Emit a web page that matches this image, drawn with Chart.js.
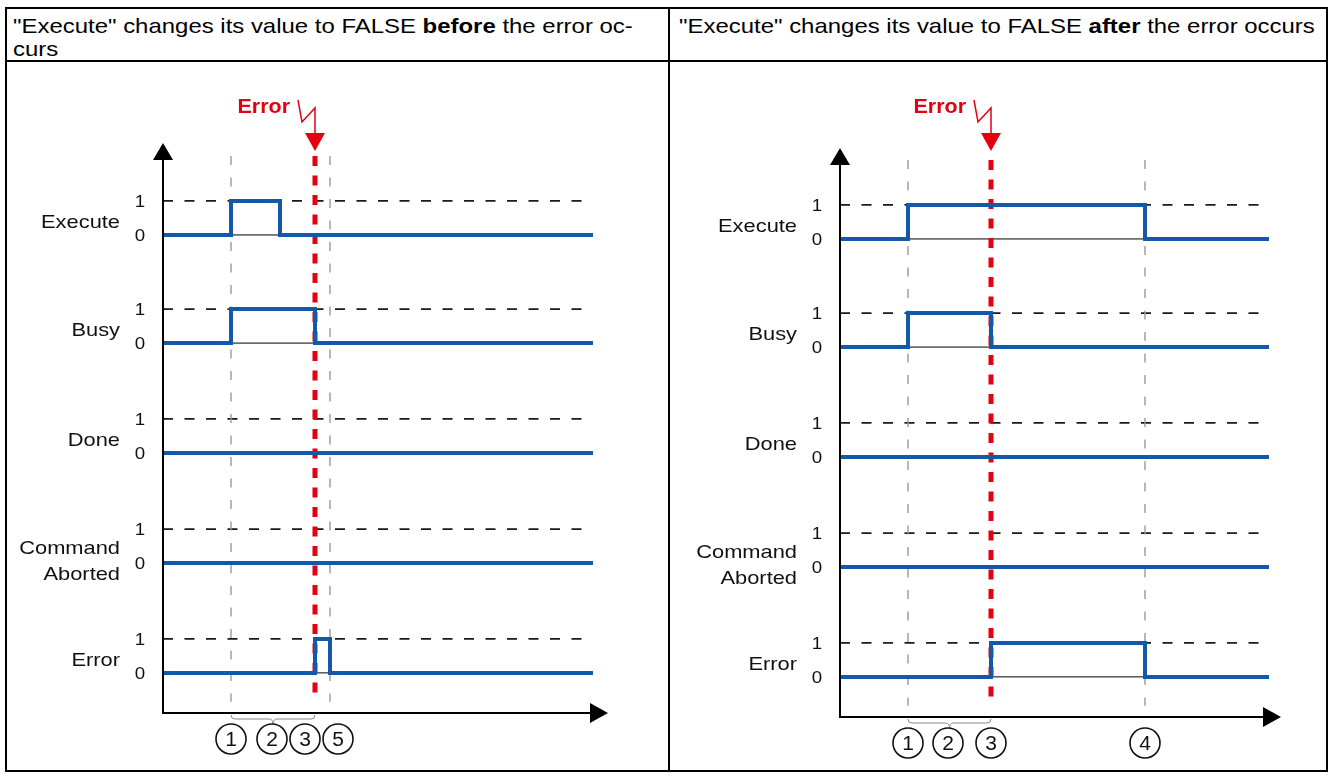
<!DOCTYPE html>
<html>
<head>
<meta charset="utf-8">
<title>Execute / Error timing</title>
<script src="https://cdn.jsdelivr.net/npm/chart.js@4.4.1/dist/chart.umd.min.js"></script>
<style>
  html, body { margin: 0; padding: 0; background: #fff; }
  body {
    width: 1330px;
    height: 776px;
    position: relative;
    overflow: hidden;
    font-family: "Liberation Sans", Arial, sans-serif;
    color: #000;
  }
  .rule { position: absolute; background: #000; }
  .head {
    position: absolute;
    top: 14px;
    font-size: 21px;
    line-height: 23px;
    white-space: nowrap;
    transform: scaleX(1.14);
    transform-origin: 0 0;
  }
  canvas { position: absolute; }
</style>
</head>
<body>
<div class="rule" style="left:5px;top:7px;width:1323px;height:2px"></div>
<div class="rule" style="left:5px;top:60px;width:1323px;height:2px"></div>
<div class="rule" style="left:5px;top:770px;width:1323px;height:2px"></div>
<div class="rule" style="left:5px;top:7px;width:2px;height:765px"></div>
<div class="rule" style="left:668px;top:7px;width:2px;height:765px"></div>
<div class="rule" style="left:1326px;top:7px;width:2px;height:765px"></div>

<div class="head" style="left:13px">"Execute" changes its value to FALSE <b>before</b> the error oc-<br>curs</div>
<div class="head" style="left:679px">"Execute" changes its value to FALSE <b>after</b> the error occurs</div>

<canvas id="chart-before" width="661" height="708" style="left:7px;top:62px"></canvas>
<canvas id="chart-after" width="656" height="708" style="left:670px;top:62px"></canvas>

<script>
const signalNames = ["Execute", "Busy", "Done", "Command\nAborted", "Error"];
const levelLabels = ["0", "1"];

// left: Execute drops before the error (time = px from the y axis)
const beforeEnd = 430;
const beforeExecute = [[0, 0], [68, 1], [117, 0], [430, 0]];
const beforeBusy = [[0, 0], [68, 1], [152, 0], [430, 0]];
const beforeDone = [[0, 0], [430, 0]];
const beforeAborted = [[0, 0], [430, 0]];
const beforeError = [[0, 0], [152, 1], [167, 0], [430, 0]];
const beforeGrayMarks = [68, 167];
const beforeErrorMark = 152;
const beforeSteps = ["1", "2", "3", "5"];
const beforeStepPos = [68, 109, 142, 175];
const beforeBrace = [68, 152];

// right: Execute drops after the error
const afterEnd = 429;
const afterExecute = [[0, 0], [68, 1], [305, 0], [429, 0]];
const afterBusy = [[0, 0], [68, 1], [151, 0], [429, 0]];
const afterDone = [[0, 0], [429, 0]];
const afterAborted = [[0, 0], [429, 0]];
const afterError = [[0, 0], [151, 1], [305, 0], [429, 0]];
const afterGrayMarks = [68, 305];
const afterErrorMark = 151;
const afterSteps = ["1", "2", "3", "4"];
const afterStepPos = [68, 108, 151, 305];
const afterBrace = [68, 151];

// zero level of each signal row, in y units (1 unit = one signal level)
const ROW_BASE = [14.06, 10.88, 7.65, 4.41, 1.18];
const MARK_TOP = 16.38;
const MARK_BOTTOM = 0.33;
const BLUE = "#1259aa";
const RED = "#e3000f";
const FONT = '"Liberation Sans", Arial, sans-serif';

function drawText(ctx, text, x, y, size, weight, align, sx) {
  ctx.save();
  ctx.translate(x, y);
  ctx.scale(sx, 1);
  ctx.font = `${weight} ${size}px ${FONT}`;
  ctx.textAlign = align;
  ctx.textBaseline = "alphabetic";
  ctx.fillText(text, 0, 0);
  ctx.restore();
}

function triangle(ctx, a, b, c) {
  ctx.beginPath();
  ctx.moveTo(a[0], a[1]);
  ctx.lineTo(b[0], b[1]);
  ctx.lineTo(c[0], c[1]);
  ctx.closePath();
  ctx.fill();
}

const timingDecor = {
  id: "timingDecor",
  afterDatasetsDraw(chart, _args, opts) {
    const { ctx, chartArea } = chart;
    const xs = chart.scales.x;
    const ys = chart.scales.y;
    const x0 = xs.getPixelForValue(0);
    const y0 = ys.getPixelForValue(0);
    const top = chartArea.top;
    const right = chartArea.right;

    ctx.save();

    // axes with arrow heads
    ctx.strokeStyle = "#000";
    ctx.fillStyle = "#000";
    ctx.lineWidth = 2;
    ctx.beginPath();
    ctx.moveTo(x0, top + 16);
    ctx.lineTo(x0, y0);
    ctx.lineTo(right - 17, y0);
    ctx.stroke();
    triangle(ctx, [x0 - 10, top + 17], [x0 + 10, top + 17], [x0, top]);
    triangle(ctx, [right - 18, y0 - 10], [right - 18, y0 + 10], [right, y0]);

    // signal names and 0/1 levels
    ctx.fillStyle = "#111";
    opts.names.forEach((name, i) => {
      const zero = ys.getPixelForValue(ROW_BASE[i]);
      const one = ys.getPixelForValue(ROW_BASE[i] + 1);
      drawText(ctx, levelLabels[0], x0 - 23, zero + 6, 17, "normal", "center", 1.1);
      drawText(ctx, levelLabels[1], x0 - 23, one + 6, 17, "normal", "center", 1.1);
      const lines = name.split("\n");
      if (lines.length === 1) {
        drawText(ctx, lines[0], x0 - 43, zero - 7, 19, "normal", "right", 1.15);
      } else {
        drawText(ctx, lines[0], x0 - 43, zero - 9, 19, "normal", "right", 1.15);
        drawText(ctx, lines[1], x0 - 43, zero + 17, 19, "normal", "right", 1.15);
      }
    });

    // brace under the x axis
    const b1 = xs.getPixelForValue(opts.brace[0]);
    const b2 = xs.getPixelForValue(opts.brace[1]);
    const bm = (b1 + b2) / 2;
    const by = y0 + 5;
    ctx.strokeStyle = "#888";
    ctx.lineWidth = 1;
    ctx.beginPath();
    ctx.moveTo(b1, by - 3);
    ctx.quadraticCurveTo(b1, by + 1, b1 + 4, by + 1);
    ctx.lineTo(bm - 4, by + 1);
    ctx.quadraticCurveTo(bm, by + 1, bm, by + 6);
    ctx.quadraticCurveTo(bm, by + 1, bm + 4, by + 1);
    ctx.lineTo(b2 - 4, by + 1);
    ctx.quadraticCurveTo(b2, by + 1, b2, by - 3);
    ctx.stroke();

    // circled step numbers
    ctx.strokeStyle = "#111";
    ctx.lineWidth = 1.6;
    opts.stepPos.forEach((pos, k) => {
      const cx = xs.getPixelForValue(pos);
      const cy = y0 + 26;
      ctx.beginPath();
      ctx.arc(cx, cy, 15, 0, Math.PI * 2);
      ctx.stroke();
      drawText(ctx, opts.steps[k], cx, cy + 7, 20, "normal", "center", 1.05);
    });

    // "Error" flash and arrow above the red line
    const r = xs.getPixelForValue(opts.errorMark);
    ctx.fillStyle = RED;
    ctx.strokeStyle = RED;
    drawText(ctx, "Error", r - 25, 51, 19.5, "bold", "right", 1.1);
    ctx.lineWidth = 1.5;
    ctx.beginPath();
    ctx.moveTo(r - 17, 38);
    ctx.lineTo(r - 13, 60);
    ctx.lineTo(r, 46);
    ctx.lineTo(r, 72);
    ctx.stroke();
    triangle(ctx, [r - 10, 71], [r + 10, 71], [r, 89]);

    ctx.restore();
  }
};

function buildDatasets(signals, end, grayMarks, errorMark) {
  const datasets = [];
  signals.forEach((sig, i) => {
    const base = ROW_BASE[i];
    datasets.push({
      data: [{ x: 0, y: base + 1 }, { x: end, y: base + 1 }],
      borderColor: "#1a1a1a",
      borderWidth: 1.8,
      borderDash: [10, 11.5],
      order: 3
    });
    datasets.push({
      data: [{ x: 0, y: base }, { x: end, y: base }],
      borderColor: "#000",
      borderWidth: 1,
      order: 3
    });
    datasets.push({
      data: sig.map(([x, v]) => ({ x, y: base + v })),
      stepped: true,
      borderColor: BLUE,
      borderWidth: 4,
      borderJoinStyle: "miter",
      order: 0
    });
  });
  grayMarks.forEach((x) => {
    datasets.push({
      data: [{ x, y: MARK_TOP }, { x, y: MARK_BOTTOM }],
      borderColor: "#9a9a9a",
      borderWidth: 1.4,
      borderDash: [9, 12.5],
      order: 2
    });
  });
  datasets.push({
    data: [{ x: errorMark, y: MARK_TOP }, { x: errorMark, y: MARK_BOTTOM }],
    borderColor: RED,
    borderWidth: 5,
    borderDash: [10, 9.5],
    order: 1
  });
  return datasets;
}

function renderTiming(canvas, setup) {
  return new Chart(canvas, {
    type: "line",
    plugins: [timingDecor],
    data: {
      datasets: buildDatasets(setup.signals, setup.end, setup.grayMarks, setup.errorMark)
    },
    options: {
      responsive: false,
      animation: false,
      events: [],
      layout: { padding: setup.padding },
      elements: {
        point: { radius: 0, hoverRadius: 0 },
        line: { tension: 0, fill: false, borderCapStyle: "butt" }
      },
      scales: {
        x: { type: "linear", display: false, min: 0, max: setup.xMax },
        y: { type: "linear", display: false, min: 0, max: setup.yMax }
      },
      plugins: {
        legend: { display: false },
        tooltip: { enabled: false },
        timingDecor: {
          names: signalNames,
          steps: setup.steps,
          stepPos: setup.stepPos,
          brace: setup.brace,
          errorMark: setup.errorMark
        }
      }
    }
  });
}

renderTiming(document.querySelector("#chart-before"), {
  signals: [beforeExecute, beforeBusy, beforeDone, beforeAborted, beforeError],
  end: beforeEnd,
  grayMarks: beforeGrayMarks,
  errorMark: beforeErrorMark,
  steps: beforeSteps,
  stepPos: beforeStepPos,
  brace: beforeBrace,
  xMax: 445,
  yMax: 16.765,
  padding: { left: 156, right: 60, top: 81, bottom: 57 }
});

renderTiming(document.querySelector("#chart-after"), {
  signals: [afterExecute, afterBusy, afterDone, afterAborted, afterError],
  end: afterEnd,
  grayMarks: afterGrayMarks,
  errorMark: afterErrorMark,
  steps: afterSteps,
  stepPos: afterStepPos,
  brace: afterBrace,
  xMax: 441,
  yMax: 16.735,
  padding: { left: 170, right: 45, top: 86, bottom: 53 }
});
</script>
</body>
</html>
